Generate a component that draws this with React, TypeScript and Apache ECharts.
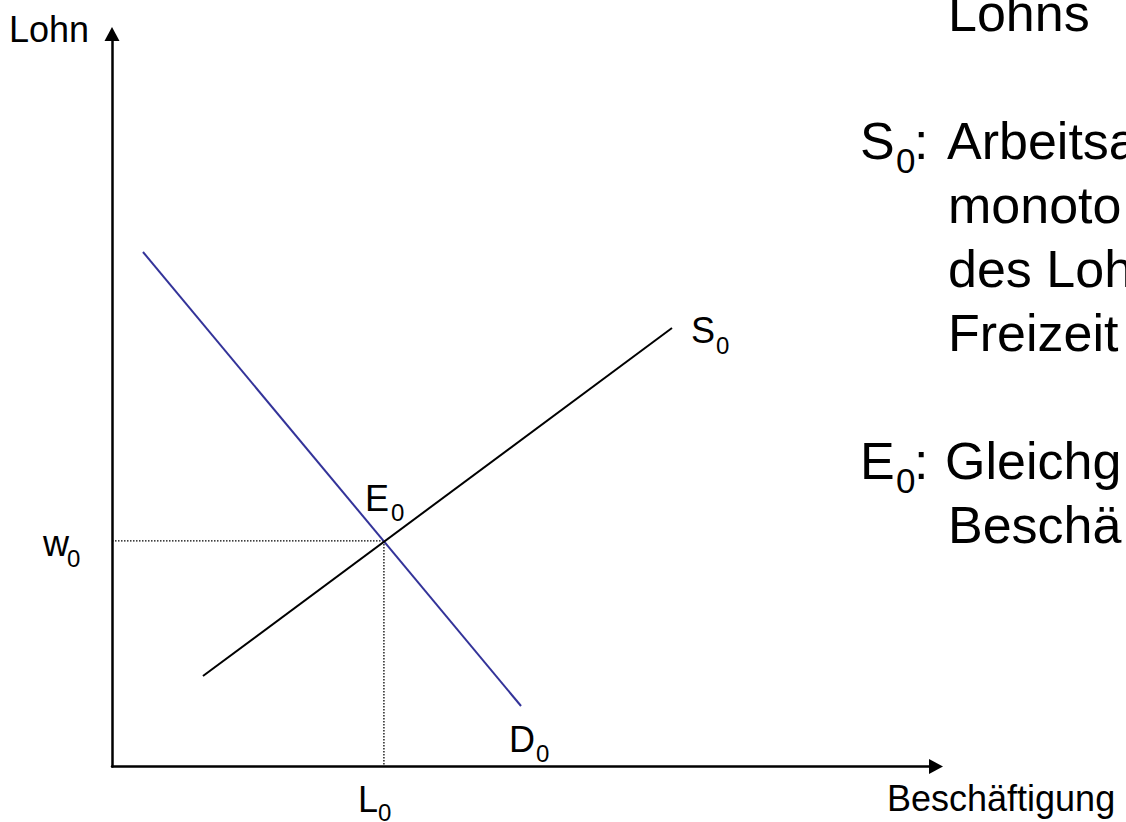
import React, { useEffect, useRef } from 'react';
import * as echarts from 'echarts';

// ---- data (chart units: 0..100 on both axes) ----
const supplyX = [11.04, 67.96];
const supplyY = [12.35, 59.86];
const demandX = [3.76, 49.64];
const demandY = [70.24, 8.26];
const equilibrium = [33, 30.8];
const axisRange = [0, 100];

// ---- texts ----
const yAxisName = 'Lohn';
const xAxisName = 'Beschäftigung';
const supplyLabel = ['S', '0'];
const demandLabel = ['D', '0'];
const eqLabel = ['E', '0'];
const wageLabel = ['w', '0'];
const laborLabel = ['L', '0'];
const noteTop = 'Lohns';
const noteS = ['S', '0', ':', 'Arbeitsa'];
const noteSLines = ['monoto', 'des Loh', 'Freizeit'];
const noteE = ['E', '0', ':', 'Gleichg'];
const noteELines = ['Beschä'];

const FONT = '"Liberation Sans", Arial, Helvetica, sans-serif';

function txt(text: string, x: number, baseline: number, size: number) {
  return {
    type: 'text',
    x,
    y: baseline - 0.3465 * size,
    silent: true,
    z: 10,
    style: {
      text,
      fill: '#000',
      font: `${size}px ${FONT}`,
      align: 'left',
      verticalAlign: 'middle',
      textAlign: 'left',
      textVerticalAlign: 'middle',
    },
  };
}

function pair(xs: number[], ys: number[]) {
  return xs.map((x, i) => [x, ys[i]]);
}

export default function App() {
  const ref = useRef<HTMLDivElement>(null);

  useEffect(() => {
    if (!ref.current) return;
    const chart = echarts.init(ref.current, undefined, { renderer: 'svg' });
    const axisCommon = {
      type: 'value',
      min: axisRange[0],
      max: axisRange[1],
      axisLine: {
        show: true,
        onZero: false,
        symbol: ['none', 'triangle'],
        symbolSize: [15, 14],
        lineStyle: { color: '#000', width: 2.5 },
      },
      axisTick: { show: false },
      axisLabel: { show: false },
      splitLine: { show: false },
    };
    const dotted = { color: '#000', width: 1.3, type: [1.5, 1.5] };
    chart.setOption({
      animation: false,
      backgroundColor: '#fff',
      grid: { left: 112, right: 190, top: 34, bottom: 55.5, containLabel: false, outerBoundsMode: 'none' },
      xAxis: axisCommon,
      yAxis: axisCommon,
      series: [
        {
          type: 'line',
          silent: true,
          symbol: 'none',
          data: [[axisRange[0], equilibrium[1]], equilibrium],
          lineStyle: dotted,
          z: 1,
        },
        {
          type: 'line',
          silent: true,
          symbol: 'none',
          data: [equilibrium, [equilibrium[0], axisRange[0]]],
          lineStyle: dotted,
          z: 1,
        },
        {
          type: 'line',
          silent: true,
          symbol: 'none',
          data: pair(demandX, demandY),
          lineStyle: { color: '#333399', width: 2 },
          z: 2,
        },
        {
          type: 'line',
          silent: true,
          symbol: 'none',
          data: pair(supplyX, supplyY),
          lineStyle: { color: '#000', width: 2 },
          z: 3,
        },
      ],
    });

    const px = (p: number[]) => chart.convertToPixel({ gridIndex: 0 }, p) as number[];
    const eq = px(equilibrium);
    const origin = px([axisRange[0], axisRange[0]]);
    const dEnd = px([demandX[1], demandY[1]]);
    const sEnd = px([supplyX[1], supplyY[1]]);

    const M = 36; // main label size
    const S = 24; // subscript size
    const N = 52; // note size
    const NS = 35; // note subscript size
    const lh = 64; // note line height

    const g: any[] = [
      txt(yAxisName, 9, 42, M),
      txt(xAxisName, 887, 811, M),
      // E0
      txt(eqLabel[0], eq[0] - 19, eq[1] - 30, M),
      txt(eqLabel[1], eq[0] + 7, eq[1] - 20, S),
      // w0
      txt(wageLabel[0], origin[0] - 69, eq[1] + 15, M),
      txt(wageLabel[1], origin[0] - 45, eq[1] + 26, S),
      // L0
      txt(laborLabel[0], eq[0] - 26, origin[1] + 45.5, M),
      txt(laborLabel[1], eq[0] - 6, origin[1] + 54.5, S),
      // D0
      txt(demandLabel[0], dEnd[0] - 12, dEnd[1] + 46, M),
      txt(demandLabel[1], dEnd[0] + 15, dEnd[1] + 56, S),
      // S0
      txt(supplyLabel[0], sEnd[0] + 19, sEnd[1] + 15, M),
      txt(supplyLabel[1], sEnd[0] + 44, sEnd[1] + 26, S),
    ];

    // notes on the right
    const top = 31;
    g.push(txt(noteTop, 948, top, N));
    const sBase = top + 2 * lh;
    g.push(txt(noteS[0], 860, sBase, N));
    g.push(txt(noteS[1], 896, sBase + 14, NS));
    g.push(txt(noteS[2], 914, sBase, N));
    g.push(txt(noteS[3], 947, sBase, N));
    noteSLines.forEach((t, i) => g.push(txt(t, 948, sBase + (i + 1) * lh, N)));
    const eBase = sBase + (noteSLines.length + 2) * lh;
    g.push(txt(noteE[0], 860, eBase, N));
    g.push(txt(noteE[1], 896, eBase + 14, NS));
    g.push(txt(noteE[2], 914, eBase, N));
    g.push(txt(noteE[3], 945, eBase, N));
    noteELines.forEach((t, i) => g.push(txt(t, 948, eBase + (i + 1) * lh, N)));

    chart.setOption({ graphic: g });

    return () => chart.dispose();
  }, []);

  return (
    <div
      ref={ref}
      style={{ position: 'absolute', left: 0, top: 0, width: 1126, height: 822, background: '#fff' }}
    />
  );
}
